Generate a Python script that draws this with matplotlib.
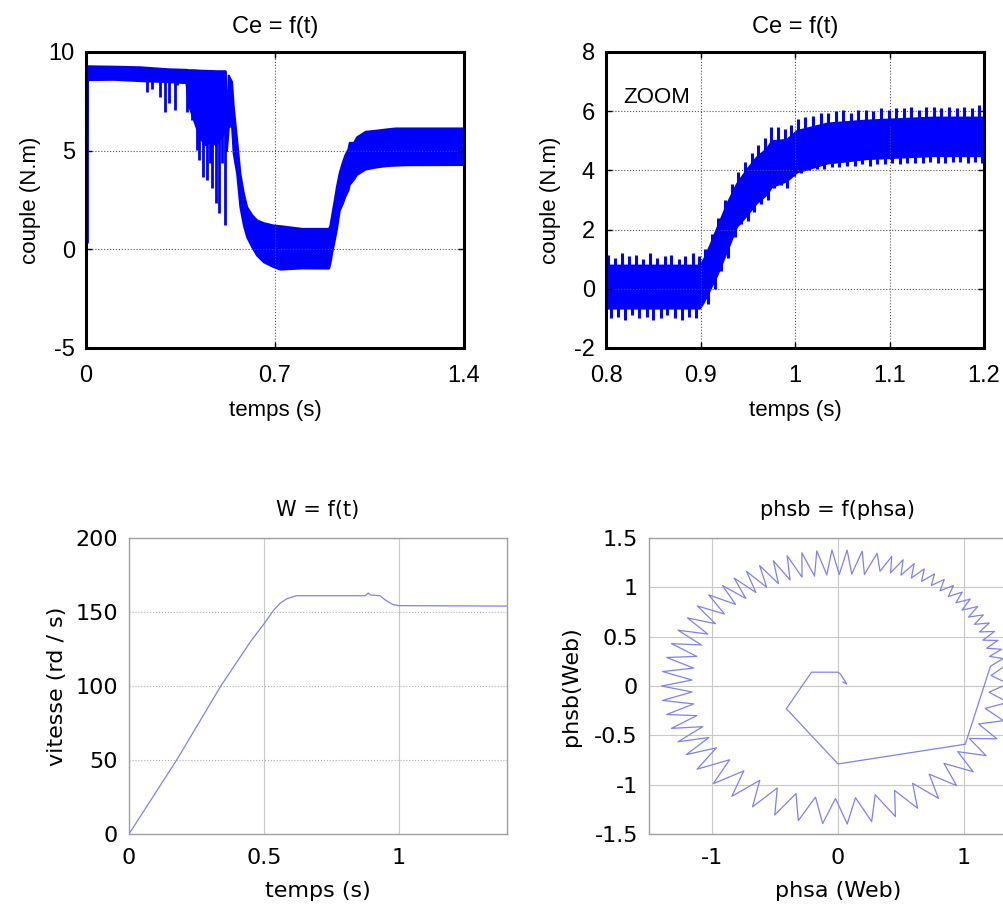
import numpy as np
import matplotlib
matplotlib.use('Agg')
import matplotlib.pyplot as plt

plt.rcParams['font.family'] = ['Liberation Sans', 'DejaVu Sans']
plt.rcParams['axes.unicode_minus'] = False

# couple electromagnetique : enveloppe de la bande d'ondulation
ce_t = [0.000, 0.004, 0.10, 0.20, 0.30, 0.37, 0.38, 0.40, 0.42, 0.44, 0.46, 0.48,
        0.50, 0.515, 0.52, 0.527, 0.539, 0.545, 0.558, 0.570, 0.583, 0.595, 0.614,
        0.632, 0.657, 0.694, 0.718, 0.80, 0.898, 0.903, 0.910, 0.917, 0.928, 0.938,
        0.949, 0.959, 0.970, 0.975, 0.991, 1.002, 1.034, 1.076, 1.111, 1.146, 1.196, 1.40]
ce_lo = [0.3, 8.6, 8.62, 8.55, 8.5, 8.45, 7.3, 6.5, 5.7, 5.3, 5.5, 5.3,
         5.7, 6.0, 5.0, 6.2, 6.3, 4.9, 3.85, 2.16, 1.23, 0.64, 0.13,
         -0.29, -0.63, -0.88, -1.0, -0.94, -0.95, -0.72, -0.15, 0.3, 1.08, 1.99,
         2.32, 2.7, 3.0, 3.3, 3.56, 3.8, 4.07, 4.18, 4.24, 4.27, 4.29, 4.3]
ce_hi = [1.3, 9.3, 9.28, 9.25, 9.15, 9.12, 9.1, 9.1, 9.08, 9.07, 9.06, 9.05,
         9.05, 9.05, 6.5, 8.83, 8.5, 7.3, 5.54, 3.85, 2.84, 2.16, 1.75,
         1.49, 1.35, 1.23, 1.2, 1.06, 1.06, 1.2, 1.76, 2.32, 3.22, 3.9,
         4.41, 4.8, 5.08, 5.42, 5.42, 5.7, 5.98, 6.04, 6.1, 6.15, 6.15, 6.15]

# pics vers le bas pendant le demarrage
pic_t = [0.002, 0.227, 0.245, 0.275, 0.293, 0.309, 0.330, 0.336, 0.373, 0.391,
         0.410, 0.420, 0.433, 0.445, 0.450, 0.460, 0.467, 0.480, 0.493, 0.505, 0.514]
pic_lo = [0.3, 7.99, 8.1, 7.74, 6.98, 7.4, 7.06, 8.33, 6.98, 6.55,
          5.03, 4.53, 3.68, 6.55, 3.51, 4.36, 3.09, 2.33, 1.82, 4.36, 1.23]
pic_hi = [9.3, 9.2, 9.2, 9.2, 9.15, 9.15, 9.15, 9.15, 9.1, 9.1,
          9.1, 9.1, 9.1, 9.1, 9.1, 9.1, 9.1, 9.05, 9.05, 9.05, 9.05]

# zoom 0.8 - 1.2 s : coeur plein de la bande + dents d'ondulation
z_t = [0.80, 0.899, 0.903, 0.910, 0.917, 0.928, 0.938, 0.949, 0.959, 0.970,
       0.975, 0.991, 1.002, 1.034, 1.076, 1.111, 1.146, 1.20]
z_lo = [-0.65, -0.65, -0.45, 0.0, 0.45, 1.3, 2.1, 2.5, 2.9, 3.2,
        3.45, 3.65, 3.95, 4.25, 4.4, 4.45, 4.5, 4.5]
z_hi = [0.8, 0.8, 1.0, 1.5, 2.05, 2.9, 3.55, 4.05, 4.45, 4.75,
        5.0, 5.05, 5.35, 5.6, 5.7, 5.75, 5.8, 5.8]

dent_h_t = [0.802, 0.809, 0.817, 0.824, 0.832, 0.839, 0.847, 0.854, 0.862, 0.869,
            0.877, 0.884, 0.892, 0.898,
            0.905, 0.912, 0.919, 0.926, 0.933, 0.940, 0.947, 0.954, 0.961, 0.968,
            0.975, 0.982, 0.989, 0.996, 1.003,
            1.011, 1.019, 1.027, 1.035, 1.043, 1.051, 1.059, 1.067, 1.075, 1.083,
            1.091, 1.099, 1.107, 1.115, 1.123, 1.131, 1.139, 1.147, 1.155, 1.163,
            1.171, 1.179, 1.187, 1.195]
dent_h_bas = [0.6, 0.6, 0.6, 0.6, 0.6, 0.6, 0.6, 0.6, 0.6, 0.6,
              0.6, 0.6, 0.6, 0.6,
              0.95, 1.4, 1.95, 2.6, 3.1, 3.5, 3.9, 4.2, 4.4, 4.65,
              4.9, 4.95, 4.95, 5.1, 5.25,
              5.3, 5.3, 5.4, 5.4, 5.5, 5.5, 5.5, 5.5, 5.5, 5.5,
              5.5, 5.5, 5.5, 5.5, 5.5, 5.5, 5.5, 5.5, 5.5, 5.5,
              5.5, 5.5, 5.5, 5.5]
dent_h_haut = [1.15, 1.05, 1.2, 1.1, 1.15, 1.0, 1.2, 1.05, 1.1, 1.15,
               1.0, 1.1, 1.2, 1.1,
               1.35, 1.85, 2.4, 3.0, 3.55, 3.95, 4.3, 4.6, 4.85, 5.1,
               5.45, 5.45, 5.4, 5.55, 5.75,
               5.8, 5.85, 5.95, 5.95, 6.0, 6.05, 5.95, 6.05, 6.05, 6.0,
               6.1, 6.05, 6.1, 6.1, 6.15, 6.05, 6.15, 6.15, 6.1, 6.15,
               6.1, 6.15, 6.1, 6.2]

dent_b_t = [0.805, 0.813, 0.820, 0.828, 0.835, 0.843, 0.850, 0.858, 0.865, 0.873,
            0.880, 0.888, 0.895,
            0.908, 0.915, 0.922, 0.929, 0.936, 0.943, 0.950, 0.957, 0.964, 0.971,
            0.978, 0.985, 0.992, 0.999, 1.006,
            1.015, 1.023, 1.031, 1.039, 1.047, 1.055, 1.063, 1.071, 1.079, 1.087,
            1.095, 1.103, 1.111, 1.119, 1.127, 1.135, 1.143, 1.151, 1.159, 1.167,
            1.175, 1.183, 1.191, 1.198]
dent_b_bas = [-1.0, -0.95, -1.05, -0.9, -1.0, -0.95, -1.05, -1.0, -0.9, -1.0,
              -1.05, -0.95, -1.0,
              -0.5, 0.0, 0.6, 1.05, 1.75, 2.2, 2.3, 2.6, 2.85, 3.0,
              3.4, 3.5, 3.4, 3.8, 3.9,
              4.0, 4.05, 4.05, 4.1, 4.1, 4.15, 4.15, 4.2, 4.15, 4.2,
              4.2, 4.25, 4.2, 4.25, 4.25, 4.25, 4.3, 4.25, 4.25, 4.3,
              4.3, 4.25, 4.3, 4.25]
dent_b_haut = [-0.4, -0.4, -0.4, -0.4, -0.4, -0.4, -0.4, -0.4, -0.4, -0.4,
               -0.4, -0.4, -0.4,
               0.0, 0.5, 1.0, 1.5, 2.3, 2.6, 2.7, 3.0, 3.2, 3.4,
               3.8, 3.9, 3.9, 4.1, 4.2,
               4.5, 4.5, 4.5, 4.6, 4.6, 4.6, 4.6, 4.7, 4.7, 4.7,
               4.7, 4.7, 4.7, 4.7, 4.7, 4.7, 4.7, 4.7, 4.7, 4.7,
               4.7, 4.7, 4.7, 4.7]

# vitesse
w_t = [0.0, 0.18, 0.34, 0.45, 0.50, 0.535, 0.56, 0.585, 0.62, 0.875, 0.886,
       0.895, 0.93, 0.95, 0.978, 1.0, 1.4]
w_val = [0.0, 51, 100, 130, 142, 151, 156, 159, 161, 161, 162.8,
         161.5, 161, 158, 155, 154.3, 154]

# flux : trajet initial puis anneau (angle en degres, rayon en Web)
phs_a0 = [0.04, 0.07, 0.05, 0.02, 0.0, -0.21, -0.41, 0.0, 1.01, 1.21]
phs_b0 = [0.04, 0.02, 0.06, 0.12, 0.14, 0.14, -0.23, -0.79, -0.59, 0.2]
ring_deg = [12, 14, 16, 18, 20, 22, 24, 26, 28, 30, 32, 34, 36, 38, 40, 42,
            44, 46, 48, 50, 52, 54, 56, 58, 60, 62, 64, 66, 68, 70, 72, 74,
            77, 79.5, 82, 84.5, 87, 89.5, 92, 94.5, 97, 99.5, 102, 104.5,
            107, 109.5, 112, 114.5, 117, 119.5, 122, 124.5, 127, 129.5, 132, 134.5,
            138, 141, 144, 147, 150, 153, 156, 159, 162, 165, 168, 171, 174, 177,
            180, 183, 186, 189, 192, 195, 198, 201, 204, 207, 210, 213,
            217, 221, 225, 229, 233, 237, 241, 245, 249, 253, 257, 261, 265, 269,
            273, 277, 281, 285, 289, 293, 297, 301, 305, 309, 313, 317,
            321, 325, 329, 333, 337, 341, 345, 349, 353, 357, 361, 365, 369]
ring_r = [1.34, 1.24, 1.35, 1.24, 1.35, 1.24, 1.36, 1.25, 1.36, 1.25, 1.36, 1.25,
          1.37, 1.25, 1.37, 1.26, 1.37, 1.26, 1.37, 1.26, 1.37, 1.26, 1.37, 1.25,
          1.37, 1.24, 1.38, 1.23, 1.38, 1.22, 1.38, 1.21,
          1.38, 1.15, 1.38, 1.14, 1.38, 1.13, 1.38, 1.13, 1.38, 1.13, 1.38, 1.14,
          1.38, 1.14, 1.37, 1.14, 1.37, 1.15, 1.37, 1.15, 1.37, 1.15, 1.37, 1.16,
          1.38, 1.16, 1.38, 1.16, 1.38, 1.16, 1.39, 1.16, 1.39, 1.16, 1.39, 1.16,
          1.40, 1.16, 1.40, 1.16, 1.40, 1.16, 1.39, 1.16, 1.39, 1.15, 1.39, 1.15,
          1.39, 1.15,
          1.40, 1.14, 1.40, 1.14, 1.40, 1.14, 1.40, 1.14, 1.40, 1.14, 1.40, 1.14,
          1.40, 1.14, 1.40, 1.14, 1.40, 1.14, 1.40, 1.15, 1.39, 1.15, 1.39, 1.15,
          1.38, 1.15, 1.38, 1.16, 1.37, 1.17, 1.37, 1.18, 1.36, 1.19, 1.36, 1.20,
          1.35, 1.22, 1.35]

BLEU = '#0000ff'
BLEU_CLAIR = '#8080f0'
POLICE_BAS = 'DejaVu Sans'

fig = plt.figure(figsize=(10.04, 9.06), dpi=100)
W, H = 1004.0, 906.0
ax1 = fig.add_axes([86 / W, (906 - 348) / H, 378 / W, 296 / H])
ax2 = fig.add_axes([606 / W, (906 - 348) / H, 378 / W, 296 / H])
ax3 = fig.add_axes([129 / W, (906 - 834) / H, 378 / W, 296 / H])
ax4 = fig.add_axes([649 / W, (906 - 834) / H, 378 / W, 296 / H])


def style_haut(ax):
    for s in ax.spines.values():
        s.set_linewidth(2.2)
        s.set_color('black')
    ax.tick_params(direction='in', length=4, width=1, top=True, right=True,
                   labelsize=17, pad=12)
    ax.tick_params(axis='y', pad=8)
    ax.grid(True, linestyle=':', color='#555555', linewidth=0.8)


def style_bas(ax):
    for s in ax.spines.values():
        s.set_linewidth(1.0)
        s.set_color('#a0a0a0')
    ax.tick_params(length=0, labelsize=16, pad=10)
    ax.tick_params(axis='y', pad=8)
    for lab in ax.get_xticklabels() + ax.get_yticklabels():
        lab.set_family(POLICE_BAS)


# Ce = f(t)
ax1.fill_between(ce_t, ce_lo, ce_hi, color=BLEU, linewidth=1.5, edgecolor=BLEU)
ax1.vlines(pic_t, pic_lo, pic_hi, color=BLEU, linewidth=2)
ax1.set_xlim(0, 1.4)
ax1.set_ylim(-5, 10)
ax1.set_xticks([0, 0.7, 1.4])
ax1.set_xticklabels(['0', '0.7', '1.4'])
ax1.set_yticks([-5, 0, 5, 10])
style_haut(ax1)
ax1.set_title('Ce = f(t)', fontsize=17, pad=14)
ax1.set_xlabel('temps (s)', fontsize=16)
ax1.set_ylabel('couple (N.m)', fontsize=16)
ax1.xaxis.set_label_coords(0.5, -0.175)
ax1.yaxis.set_label_coords(-0.118, 0.5)

# zoom
ax2.fill_between(z_t, z_lo, z_hi, color=BLEU, linewidth=1.5, edgecolor=BLEU)
ax2.vlines(dent_h_t, dent_h_bas, dent_h_haut, color=BLEU, linewidth=2.2)
ax2.vlines(dent_b_t, dent_b_bas, dent_b_haut, color=BLEU, linewidth=2.2)
ax2.set_xlim(0.8, 1.2)
ax2.set_ylim(-2, 8)
ax2.set_xticks([0.8, 0.9, 1.0, 1.1, 1.2])
ax2.set_xticklabels(['0.8', '0.9', '1', '1.1', '1.2'])
ax2.set_yticks([-2, 0, 2, 4, 6, 8])
style_haut(ax2)
ax2.text(0.818, 6.28, 'ZOOM', fontsize=16, va='baseline')
ax2.set_title('Ce = f(t)', fontsize=17, pad=14)
ax2.set_xlabel('temps (s)', fontsize=16)
ax2.set_ylabel('couple (N.m)', fontsize=16)
ax2.xaxis.set_label_coords(0.5, -0.175)
ax2.yaxis.set_label_coords(-0.118, 0.5)

# W = f(t)
ax3.plot(w_t, w_val, color=BLEU_CLAIR, linewidth=0.9)
ax3.set_xlim(0, 1.4)
ax3.set_ylim(0, 200)
ax3.set_xticks([0, 0.5, 1])
ax3.set_xticklabels(['0', '0.5', '1'])
ax3.set_yticks([0, 50, 100, 150, 200])
style_bas(ax3)
ax3.grid(True, axis='x', color='#c8c8c8', linewidth=0.8)
ax3.grid(True, axis='y', color='#b0b0b0', linewidth=0.8, linestyle=':')
ax3.set_title('W = f(t)', fontsize=15, pad=16, family=POLICE_BAS)
ax3.set_xlabel('temps (s)', fontsize=16, family=POLICE_BAS)
ax3.set_ylabel('vitesse (rd / s)', fontsize=16, family=POLICE_BAS)
ax3.xaxis.set_label_coords(0.5, -0.16)
ax3.yaxis.set_label_coords(-0.165, 0.5)

# phsb = f(phsa)
ang = np.radians(ring_deg)
ring_a = np.array(ring_r) * np.cos(ang)
ring_b = np.array(ring_r) * np.sin(ang)
phs_a = np.concatenate([phs_a0, ring_a])
phs_b = np.concatenate([phs_b0, ring_b])
ax4.plot(phs_a, phs_b, color=BLEU_CLAIR, linewidth=0.9)
ax4.set_xlim(-1.5, 1.5)
ax4.set_ylim(-1.5, 1.5)
ax4.set_xticks([-1, 0, 1])
ax4.set_yticks([-1.5, -1, -0.5, 0, 0.5, 1, 1.5])
ax4.set_yticklabels(['-1.5', '-1', '-0.5', '0', '0.5', '1', '1.5'])
style_bas(ax4)
ax4.grid(True, color='#c8c8c8', linewidth=0.8)
ax4.set_title('phsb = f(phsa)', fontsize=15, pad=16, family=POLICE_BAS)
ax4.set_xlabel('phsa (Web)', fontsize=16, family=POLICE_BAS)
ax4.set_ylabel('phsb(Web)', fontsize=16, family=POLICE_BAS)
ax4.xaxis.set_label_coords(0.5, -0.16)
ax4.yaxis.set_label_coords(-0.18, 0.5)

fig.savefig('out.png', dpi=100)
